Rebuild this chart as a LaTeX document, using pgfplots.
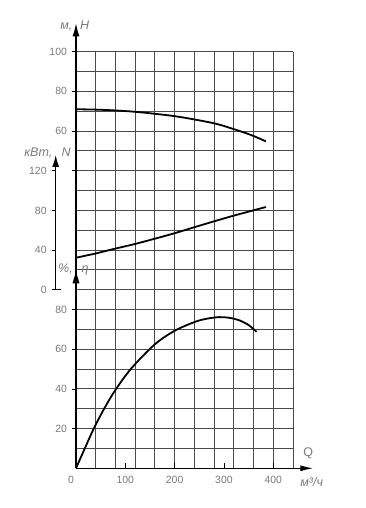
\documentclass[border=0pt]{standalone}
\usepackage{pgfplots}
\pgfplotsset{compat=1.18}
\usepackage{fontspec}
\setmainfont{Liberation Sans}
\usetikzlibrary{arrows.meta}
\definecolor{gridc}{HTML}{4A4A4A}
\definecolor{txt}{HTML}{7A7A7A}
\begin{document}
\begin{tikzpicture}[x=1pt,y=1pt]
\path[use as bounding box] (0,0) rectangle (365,508);
\pgfplotsset{
  base/.style={scale only axis, width=217pt, height=416.6pt, at={(76pt,39.7pt)}, anchor=south west,
    xmin=0, xmax=440, axis line style={draw=none}, tick pos=left,
    ticklabel style={font=\fontsize{10.5}{12}\selectfont, text=txt},
    /pgf/number format/assume math mode=true, clip=false},
  curve/.style={black, line width=1.8pt, smooth, tension=0.55},
}
% grid
\begin{axis}[base, ymin=0, ymax=210, xtick={0,40,...,440}, ytick={0,10,...,210},
  grid=major, grid style={gridc, line width=0.9pt}, xticklabels={}, yticklabels={}, tick style={draw=none}]
\end{axis}
% x ticks
\begin{axis}[base, ymin=0, ymax=210, xtick={0,100,200,300,400},
  xticklabels={\llap{0\hspace{2pt}},100,200,300,400}, ytick=\empty,
  tick align=inside, major tick length=5pt, tick style={black, line width=0.8pt},
  x tick label style={yshift=-4pt}]
\end{axis}
% efficiency
\begin{axis}[base, ymin=0, ymax=210, ytick={20,40,60,80}, xtick=\empty,
  tick align=outside, major tick length=4pt, tick style={black, line width=0.8pt},
  y tick label style={xshift=-1.5pt}]
\addplot[curve] coordinates {(0,0) (18,10.1) (36,20) (57,30) (80,39.5) (112,50.3) (160,62.5) (200,69.3) (240,73.7) (265,75.4) (290,76.2) (310,75.9) (330,74.7) (350,72.2) (366,68.8)};
\end{axis}
% head
\begin{axis}[base, ymin=-110, ymax=100, ytick={60,80,100}, xtick=\empty,
  tick align=outside, major tick length=4pt, tick style={black, line width=0.8pt},
  y tick label style={xshift=-1.5pt}]
\addplot[curve] coordinates {(0,71.0) (40,70.8) (79,70.4) (120,69.7) (160,68.7) (200,67.5) (241,65.8) (285,63.6) (322,60.8) (355,58.0) (385,54.8)};
\end{axis}
% power
\begin{axis}[base, width=237.3pt, at={(55.7pt,39.7pt)}, xmin=-41.16, xmax=440,
  ymin=-180, ymax=240, ytick={0,40,80,120}, xtick=\empty,
  tick align=outside, major tick length=4pt, tick style={black, line width=0.8pt},
  y tick label style={xshift=-1.5pt}]
\addplot[curve] coordinates {(0,32.3) (40,36.6) (79,41.4) (120,46.2) (160,51.5) (200,57.0) (241,63.2) (280,69.0) (322,75.0) (385,83.4)};
\end{axis}
% axis lines and arrows
\draw[black, line width=1.3pt, -{Latex[length=13pt,width=7pt]}] (76,39.7) -- (76,484.7);
\fill[black] (76,236.3) -- (72.5,224.7) -- (79.5,224.7) -- cycle;
\draw[black, line width=1.3pt, -{Latex[length=13pt,width=6pt]}] (76,39.7) -- (313.3,39.7);
\draw[black, line width=1.3pt, -{Latex[length=12pt,width=7pt]}] (55.7,218.7) -- (55.7,353);
\draw[black, line width=1pt] (51.7,218.7) -- (60.7,218.7);
\draw[black, line width=0.8pt] (71.7,337.3) -- (76,337.3);
% labels
\begin{scope}[every node/.style={inner sep=0pt, text=txt, font=\fontsize{12.5}{14}\selectfont\itshape}]
\node[anchor=base east] at (72.5,478) {м,};
\node[anchor=base west] at (80,478) {H};
\node[anchor=base east] at (52.5,351.3) {кВт,};
\node[anchor=base west] at (61.5,351.3) {N};
\node[anchor=base east] at (73,235) {\%,};
\node[anchor=base west] at (81.5,235) {η};
\node[font=\fontsize{12.5}{14}\selectfont] at (308.3,54.7) {Q};
\node at (311.7,26.3) {м³/ч};
\end{scope}
\end{tikzpicture}
\end{document}
